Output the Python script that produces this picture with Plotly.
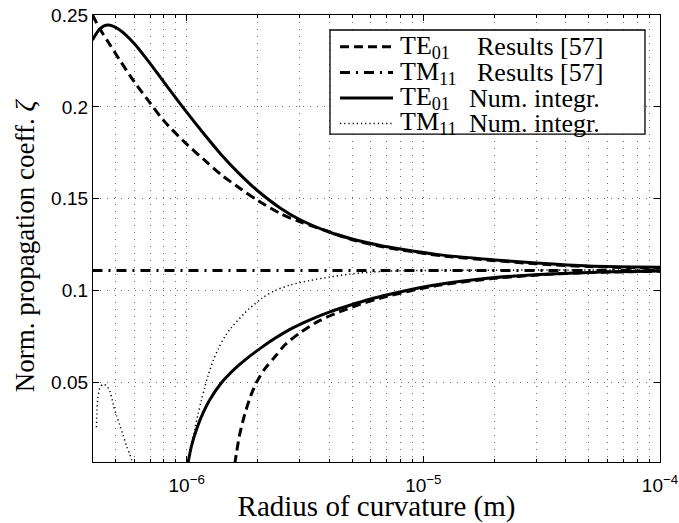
import math
import plotly.graph_objects as go

# ---------------- data (radius of curvature in metres, normalised coefficient) ----------------
# shared abscissae for the upper TE01 branch
x_upper = [4.0e-7, 4.3e-7, 4.65e-7, 5.2e-7, 6.0e-7, 7.0e-7, 8.0e-7, 1.0e-6, 1.2e-6, 1.4e-6,
           1.7e-6, 2.0e-6, 2.5e-6, 3.0e-6, 4.0e-6, 5.0e-6, 6.5e-6, 8.0e-6, 1.2e-5, 2.0e-5,
           3.0e-5, 5.0e-5, 1.0e-4]
te01_num_upper = [0.2364, 0.2425, 0.2445, 0.2420, 0.2345, 0.2237, 0.2136, 0.1971, 0.1843, 0.1740,
                  0.1626, 0.1542, 0.1447, 0.1387, 0.1319, 0.1281, 0.1247, 0.1226, 0.1193, 0.1167,
                  0.1150, 0.1134, 0.1127]
te01_ref_upper = [0.2500, 0.2424, 0.2355, 0.2257, 0.2137, 0.2022, 0.1925, 0.1797, 0.1706, 0.1630,
                  0.1552, 0.1490, 0.1418, 0.1375, 0.1320, 0.1277, 0.1243, 0.1222, 0.1189, 0.1163,
                  0.1146, 0.1131, 0.1122]

# lower TE01 branch, numerical integration
x_te01_num_lower = [1.013e-6, 1.046e-6, 1.102e-6, 1.172e-6, 1.254e-6, 1.403e-6, 1.600e-6, 1.798e-6,
                    2.040e-6, 2.361e-6, 2.731e-6, 3.319e-6, 4.031e-6, 4.896e-6, 5.946e-6, 7.223e-6,
                    8.777e-6, 1.175e-5, 1.912e-5, 3.109e-5, 5.057e-5, 1.0e-4]
te01_num_lower = [0.0060, 0.0150, 0.0247, 0.0333, 0.0407, 0.0498, 0.0575, 0.0631,
                  0.0684, 0.0740, 0.0789, 0.0841, 0.0884, 0.0920, 0.0953, 0.0980,
                  0.1005, 0.1035, 0.1068, 0.1088, 0.1099, 0.1106]

# lower TE01 branch, reference results
x_te01_ref_lower = [1.596e-6, 1.621e-6, 1.674e-6, 1.758e-6, 1.875e-6, 1.982e-6, 2.142e-6, 2.361e-6,
                    2.603e-6, 3.011e-6, 3.658e-6, 4.443e-6, 5.397e-6, 6.556e-6, 8.777e-6, 1.175e-5,
                    1.912e-5, 3.109e-5, 5.057e-5, 1.0e-4]
te01_ref_lower = [0.0055, 0.0111, 0.0215, 0.0325, 0.0435, 0.0505, 0.0575, 0.0640,
                  0.0705, 0.0770, 0.0838, 0.0885, 0.0925, 0.0958, 0.0998, 0.1030,
                  0.1064, 0.1086, 0.1098, 0.1105]

# TM11 reference value (constant)
x_tm11_ref = [4.0e-7, 1.0e-4]
tm11_ref = [0.1110, 0.1110]

# TM11 numerical integration: small fold at small radius, then main branch
x_tm11_fold = [4.157e-7, 4.178e-7, 4.218e-7, 4.30e-7, 4.428e-7, 4.581e-7, 4.726e-7, 4.896e-7,
               5.051e-7, 5.227e-7, 5.381e-7, 5.567e-7, 5.742e-7, 5.856e-7, 5.931e-7]
tm11_fold = [0.0256, 0.0347, 0.0420, 0.0470, 0.0490, 0.0482, 0.0456, 0.0380,
             0.0320, 0.0265, 0.0215, 0.0155, 0.0110, 0.0075, 0.0045]
x_tm11_main = [1.003e-6, 1.030e-6, 1.046e-6, 1.081e-6, 1.116e-6, 1.153e-6, 1.191e-6, 1.230e-6,
               1.291e-6, 1.356e-6, 1.451e-6, 1.543e-6, 1.758e-6, 1.851e-6, 2.080e-6, 2.361e-6,
               2.731e-6, 3.319e-6, 4.031e-6, 4.896e-6, 5.946e-6, 7.223e-6, 1.175e-5, 1.0e-4]
tm11_main = [0.0040, 0.0110, 0.0155, 0.0245, 0.0325, 0.0400, 0.0470, 0.0535,
             0.0615, 0.0680, 0.0750, 0.0798, 0.0878, 0.0905, 0.0958, 0.1000,
             0.1030, 0.1055, 0.1074, 0.1090, 0.1100, 0.1106, 0.1110, 0.1112]

# axis ticks
x_major = [1e-6, 1e-5, 1e-4]
x_major_text = ["10<sup>−6</sup>", "10<sup>−5</sup>", "10<sup>−4</sup>"]
x_minor = [m * 10.0 ** e for e in (-7, -6, -5) for m in range(2, 10)]
y_ticks = [0.05, 0.1, 0.15, 0.2, 0.25]
y_tick_text = ["0.05", "0.1", "0.15", "0.2", "0.25"]

x_title = "Radius of curvature (m)"
y_title = "Norm. propagation coeff. <i>ζ</i>"
legend_modes = ["TE<sub>01</sub>", "TM<sub>11</sub>", "TE<sub>01</sub>", "TM<sub>11</sub>"]
legend_descr = ["Results [57]", "Results [57]", "Num. integr.", "Num. integr."]

# ---------------- styles ----------------
DASH = "9px,5px"
DASHDOT = "10px,6px,2px,6px"
DOT = "1.2px,3px"
SERIF = "Liberation Serif"
SANS = "Liberation Sans"

styles = [
    dict(color="black", width=3, dash=DASH),
    dict(color="black", width=3, dash=DASHDOT),
    dict(color="black", width=3, dash="solid"),
    dict(color="black", width=1.5, dash=DOT),
]

fig = go.Figure()


def add_line(x, y, style):
    fig.add_trace(go.Scatter(x=x, y=y, mode="lines",
                             line=dict(**style, shape="spline", smoothing=0.8),
                             showlegend=False, hoverinfo="skip"))


add_line(x_upper, te01_ref_upper, styles[0])
add_line(x_te01_ref_lower, te01_ref_lower, styles[0])
add_line(x_tm11_ref, tm11_ref, styles[1])
add_line(x_upper, te01_num_upper, styles[2])
add_line(x_te01_num_lower, te01_num_lower, styles[2])
add_line(x_tm11_fold + [None] + x_tm11_main, tm11_fold + [None] + tm11_main, styles[3])

grid_col = "#6e6e6e"
grid_dash = "1px,6px"

fig.update_xaxes(
    type="log", range=[math.log10(4.02e-7), -4], automargin=False,
    tickmode="array", tickvals=x_major, ticktext=x_major_text,
    ticks="inside", ticklen=6, tickcolor="black", tickwidth=1,
    ticklabelstandoff=6,
    showline=True, linecolor="black", linewidth=1.3, mirror="ticks",
    showgrid=True, gridcolor=grid_col, griddash=grid_dash, gridwidth=1,
    minor=dict(tickmode="array", tickvals=x_minor, ticks="inside", ticklen=3,
               tickcolor="black", showgrid=True, gridcolor=grid_col,
               griddash=grid_dash, gridwidth=1),
    zeroline=False,
    tickfont=dict(family=SANS, size=19, color="black"),
    title=dict(text=x_title, standoff=3,
               font=dict(family=SERIF, size=29, color="black")),
)
fig.update_yaxes(
    range=[0.0067, 0.25], automargin=False,
    tickmode="array", tickvals=y_ticks, ticktext=y_tick_text,
    ticks="inside", ticklen=6, tickcolor="black", tickwidth=1,
    showline=True, linecolor="black", linewidth=1.3, mirror="ticks",
    showgrid=True, gridcolor=grid_col, griddash=grid_dash, gridwidth=1,
    zeroline=False,
    tickfont=dict(family=SANS, size=19, color="black"),
)

# y-axis title placed as a rotated annotation
fig.add_annotation(xref="paper", yref="paper", x=-0.12, y=0.485, text=y_title,
                   textangle=-90, showarrow=False, xanchor="center", yanchor="middle",
                   font=dict(family=SERIF, size=27, color="black"))

# ---------------- legend box drawn in paper coordinates ----------------
box = dict(x0=0.418, x1=0.9735, y0=0.7336, y1=0.9664)
row_y = [0.929, 0.8713, 0.8142, 0.7575]
sample_x = (0.4356, 0.5291)
mode_x = 0.5397
descr_x = [0.675, 0.675, 0.661, 0.661]

fig.add_shape(type="rect", xref="paper", yref="paper", **box,
              line=dict(color="black", width=1.3), fillcolor="white", layer="above")
for i, yy in enumerate(row_y):
    fig.add_shape(type="line", xref="paper", yref="paper",
                  x0=sample_x[0], x1=sample_x[1], y0=yy, y1=yy,
                  line=styles[i], layer="above")
    fig.add_annotation(xref="paper", yref="paper", x=mode_x, y=yy, text=legend_modes[i],
                       showarrow=False, xanchor="left", yanchor="middle", borderpad=0,
                       font=dict(family=SERIF, size=26, color="black"))
    fig.add_annotation(xref="paper", yref="paper", x=descr_x[i], y=yy, text=legend_descr[i],
                       showarrow=False, xanchor="left", yanchor="middle", borderpad=0,
                       font=dict(family=SERIF, size=26, color="black"))

fig.update_layout(
    width=679, height=523,
    margin=dict(l=93, r=19, t=15, b=61),
    plot_bgcolor="white", paper_bgcolor="white",
    showlegend=False,
)

fig.write_html("out.html")
